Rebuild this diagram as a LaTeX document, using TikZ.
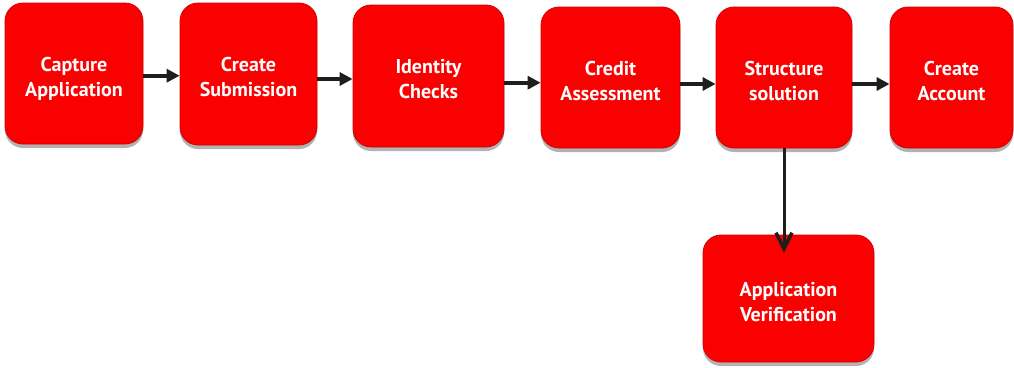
\documentclass[tikz,border=0pt]{standalone}
\usepackage{fontspec}
\setmainfont{PT Sans}
\usetikzlibrary{arrows.meta,shadows}
\definecolor{boxred}{RGB}{250,0,0}
\definecolor{boxedge}{RGB}{210,0,0}
\definecolor{arrowdark}{RGB}{30,30,26}
\newcommand{\twolines}[2]{\raisebox{-5pt}[\height][\depth]{\begin{tabular}{@{}c@{}}#1\\#2\end{tabular}}}
\tikzset{
  stepbox/.style={draw=boxedge, line width=0.8pt, fill=boxred, rounded corners=18pt,
    inner sep=0pt, text=white,
    font=\fontsize{20}{25}\selectfont\bfseries,
    drop shadow={shadow xshift=0pt, shadow yshift=-4pt, opacity=0.3, fill=black}},
  harrow/.style={draw=arrowdark, line width=4pt, -{Triangle[length=13pt,width=13pt]}},
  varrow/.style={draw=arrowdark, line width=3pt, -{Straight Barb[length=16pt,width=16pt,line width=3.5pt]}}
}
\begin{document}
\begin{tikzpicture}[x=1pt,y=-1pt]
\useasboundingbox (0,0) rectangle (1014,367);
\node[stepbox, minimum width=138pt, minimum height=141pt] (a) at (74,73.5) {\twolines{Capture}{Application}};
\node[stepbox, minimum width=137pt, minimum height=142pt] (b) at (248.5,74) {\twolines{Create}{Submission}};
\node[stepbox, minimum width=151pt, minimum height=142pt] (c) at (428.5,76) {\twolines{Identity}{Checks}};
\node[stepbox, minimum width=139pt, minimum height=141pt] (d) at (610.5,77.5) {\twolines{Credit}{Assessment}};
\node[stepbox, minimum width=136pt, minimum height=141pt] (e) at (784,77.5) {\twolines{Structure}{solution}};
\node[stepbox, minimum width=123pt, minimum height=141pt] (f) at (951.5,77.5) {\twolines{Create}{Account}};
\node[stepbox, minimum width=171pt, minimum height=127pt] (g) at (788.5,298.5) {\twolines{Application}{Verification}};
\draw[harrow] (a.east |- 0,75.7) -- (b.west |- 0,75.7);
\draw[harrow] (b.east |- 0,79) -- (c.west |- 0,79);
\draw[harrow] (c.east |- 0,82.7) -- (d.west |- 0,82.7);
\draw[harrow] (d.east |- 0,84) -- (e.west |- 0,84);
\draw[harrow] (e.east |- 0,84) -- (f.west |- 0,84);
\draw[varrow] (e.south) -- ([yshift=-18pt]e.south |- g.north);
\end{tikzpicture}
\end{document}
